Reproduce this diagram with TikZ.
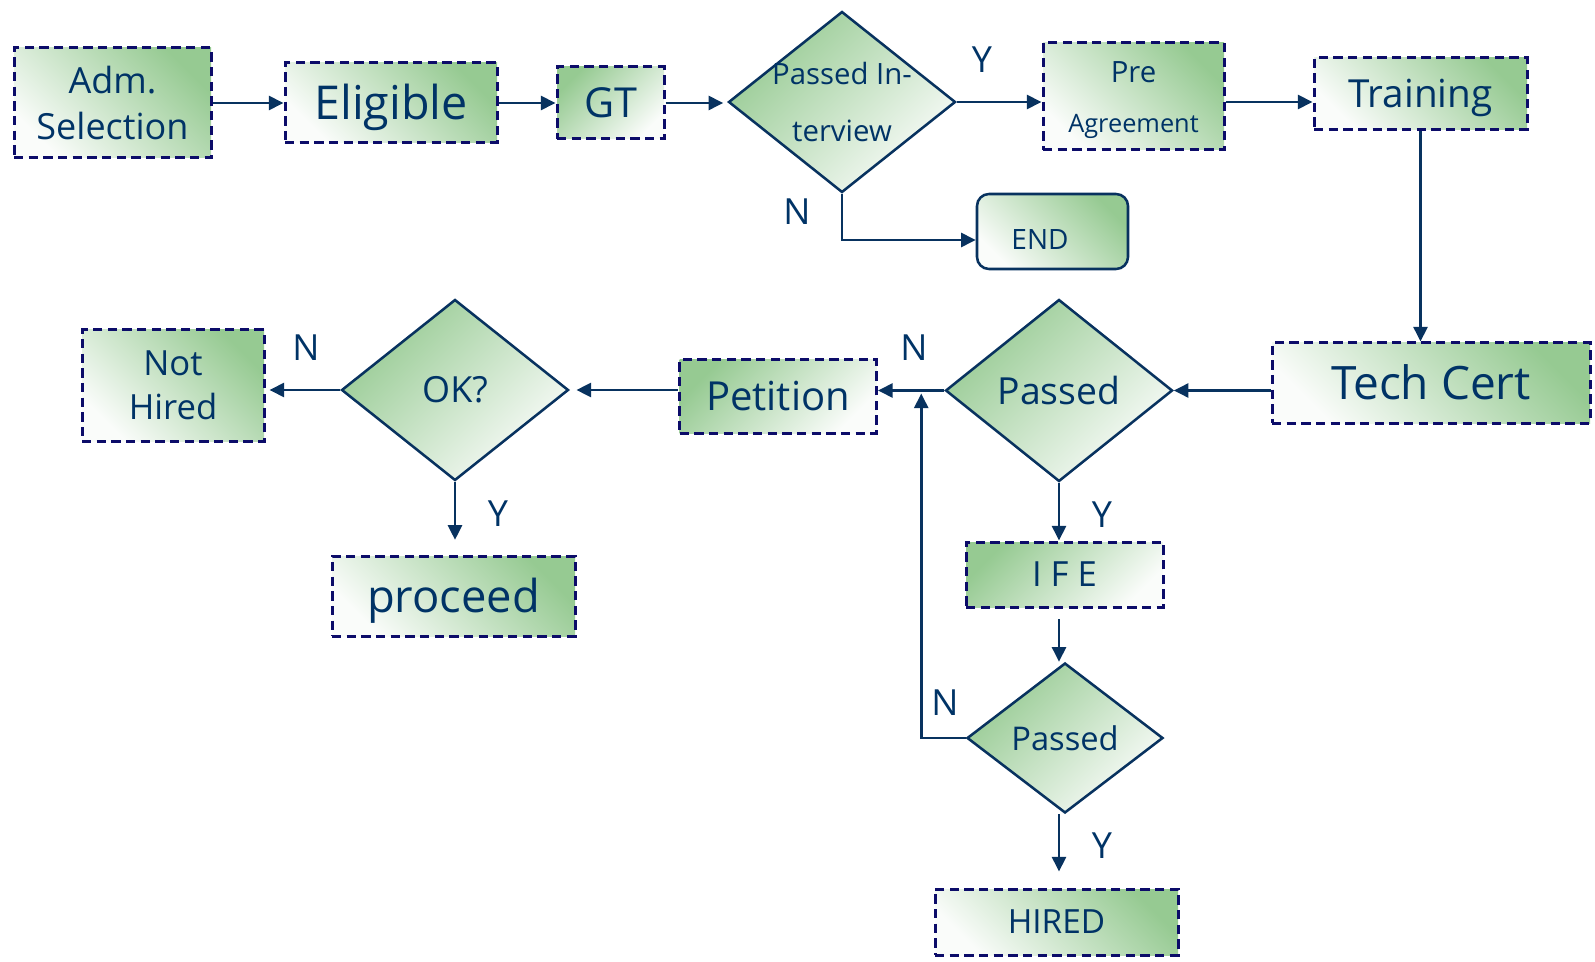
\documentclass[tikz,border=0pt]{standalone}
\usepackage{fontspec}
\setmainfont{Open Sans}
\usetikzlibrary{shapes.geometric,arrows.meta,calc}
\definecolor{txtc}{RGB}{0,51,102}
\definecolor{linec}{RGB}{8,50,95}
\definecolor{dashc}{RGB}{12,12,105}
\definecolor{gr}{RGB}{150,202,146}
\definecolor{wh}{RGB}{250,252,250}
\newcommand{\px}{0.75pt}
\newcommand{\fs}[2]{\fontsize{#1}{#2}\selectfont}
\begin{document}
\begin{tikzpicture}[x=0.75pt,y=-0.75pt,
  box/.style={rectangle, draw=dashc, line width=2.25pt, dash pattern=on 7pt off 4pt,
    top color=gr, bottom color=wh, shading angle=-45, text=txtc, inner sep=0pt, align=center},
  boxr/.style={box, shading angle=45},
  endbox/.style={rectangle, rounded corners=9pt, draw=linec, line width=1.9pt,
    top color=gr, bottom color=wh, shading angle=-45, inner sep=0pt},
  dia/.style={diamond, draw=linec, line width=1.9pt, top color=gr, bottom color=wh,
    shading angle=45, inner sep=0pt},
  txt/.style={text=txtc, inner sep=0pt, align=center},
  lbl/.style={text=txtc, inner sep=0pt, font=\fs{27}{32}},
  arr/.style={draw=linec, line width=2pt, -{Triangle[length=11pt,width=10.5pt]}}
]
\useasboundingbox (0,0) rectangle (1595,962);

% top row
\node[box, minimum width=197*\px, minimum height=110*\px, font=\fs{27}{34}] (adm) at (112.5,103) {Adm.\\Selection};
\node[box, minimum width=212*\px, minimum height=80*\px, font=\fs{35}{42}, text height=25pt, text depth=0pt] (elig) at (391,103) {Eligible};
\node[boxr, minimum width=107*\px, minimum height=72*\px, font=\fs{31}{36}, text height=22pt, text depth=0pt] (gt) at (610.5,103) {GT};
\node[dia, minimum width=227*\px, minimum height=181*\px] (pi) at (842,102) {};
\node[txt, font=\fs{22}{43}] (pit) at (pi.center) {Passed In-\\terview};
\node[box, minimum width=181*\px, minimum height=107*\px] (pre) at (1133.5,96.5) {};
\node[txt, font=\fs{19}{37.5}] (pret) at ($(pre.center)+(0,4)$) {{\fs{22}{26}Pre}\\Agreement};
\node[box, minimum width=213*\px, minimum height=72*\px, font=\fs{29}{34}, text height=20.7pt, text depth=0pt] (train) at (1420.5,94) {Training};
\node[endbox, minimum width=151*\px, minimum height=75*\px] (end) at (1052.5,231.5) {};
\node[txt, font=\fs{21}{25}, text height=15pt, text depth=0pt] (endt) at (1040,240) {END};

% middle row
\node[box, minimum width=318*\px, minimum height=80*\px, font=\fs{34.5}{40}, text height=24.6pt, text depth=0pt] (tech) at (1431,383) {Tech Cert};
\node[dia, minimum width=227*\px, minimum height=182*\px] (p1) at (1059,390.5) {};
\node[txt, font=\fs{28}{34}] (p1t) at (p1.center) {Passed};
\node[boxr, minimum width=197*\px, minimum height=73*\px, font=\fs{30}{36}, text height=21.4pt, text depth=0pt] (pet) at (778,396.5) {Petition};
\node[dia, minimum width=227*\px, minimum height=181*\px] (ok) at (455,390) {};
\node[txt, font=\fs{27}{32}] (okt) at (ok.center) {OK?};
\node[box, minimum width=182*\px, minimum height=111*\px, font=\fs{26}{33}] (nh) at (173,385.5) {Not\\Hired};
\node[box, minimum width=243*\px, minimum height=80*\px, font=\fs{34}{40}, text height=24.3pt, text depth=0pt] (proc) at (453.5,596) {proceed};

% lower column
\node[boxr, minimum width=197*\px, minimum height=65*\px, font=\fs{26}{30}, text height=18.6pt, text depth=0pt] (ife) at (1064.5,574.5) {I F E};
\node[dia, minimum width=196*\px, minimum height=150*\px] (p2) at (1065,738) {};
\node[txt, font=\fs{24.5}{30}] (p2t) at (p2.center) {Passed};
\node[box, minimum width=243*\px, minimum height=66*\px, font=\fs{25}{30}, text height=17.9pt, text depth=0pt] (hired) at (1056.5,922) {HIRED};

% labels
\node[lbl] (y1) at (982,60) {Y};
\node[lbl] (n1) at (797,212) {N};
\node[lbl] (n2) at (306,348) {N};
\node[lbl] (y2) at (498,514) {Y};
\node[lbl] (n3) at (914,348) {N};
\node[lbl] (y3) at (1102,515) {Y};
\node[lbl] (n4) at (945,703) {N};
\node[lbl] (y4) at (1102,846) {Y};

\coordinate (endin) at ($(end.west)+(0,8.5)$);
\coordinate (loopin) at ($(p1.west)+(-23,3)$);

% connectors
\draw[arr] (adm.east) -- (elig.west);
\draw[arr] (elig.east) -- (gt.west);
\draw[arr, shorten >=3pt] (gt.east) -- (gt.east -| pi.west);
\draw[arr] (pi.east) -- (pi.east -| pre.west);
\draw[arr] (pre.east |- pi.east) -- (train.west |- pi.east);
\draw[arr] (pi.south) |- (endin);
\draw[arr] (train.south) -- (train.south |- tech.north);
\draw[arr] (tech.west |- p1.east) -- (p1.east);
\draw[arr] (p1.west) -- (p1.west -| pet.east);
\draw[arr, shorten >=5pt] (pet.west |- ok.east) -- (ok.east);
\draw[arr, shorten >=3pt] (ok.west) -- (ok.west -| nh.east);
\draw[arr, shorten >=11pt] (ok.south) -- (ok.south |- proc.north);
\draw[arr] (p1.south) -- (p1.south |- ife.north);
\draw[arr, shorten <=8pt] (p1.south |- ife.south) -- (p1.south |- p2.north);
\draw[arr, shorten >=12pt] (p1.south |- p2.south) -- (p1.south |- hired.north);
\draw[arr] (p2.west) -| (loopin);
\end{tikzpicture}
\end{document}
